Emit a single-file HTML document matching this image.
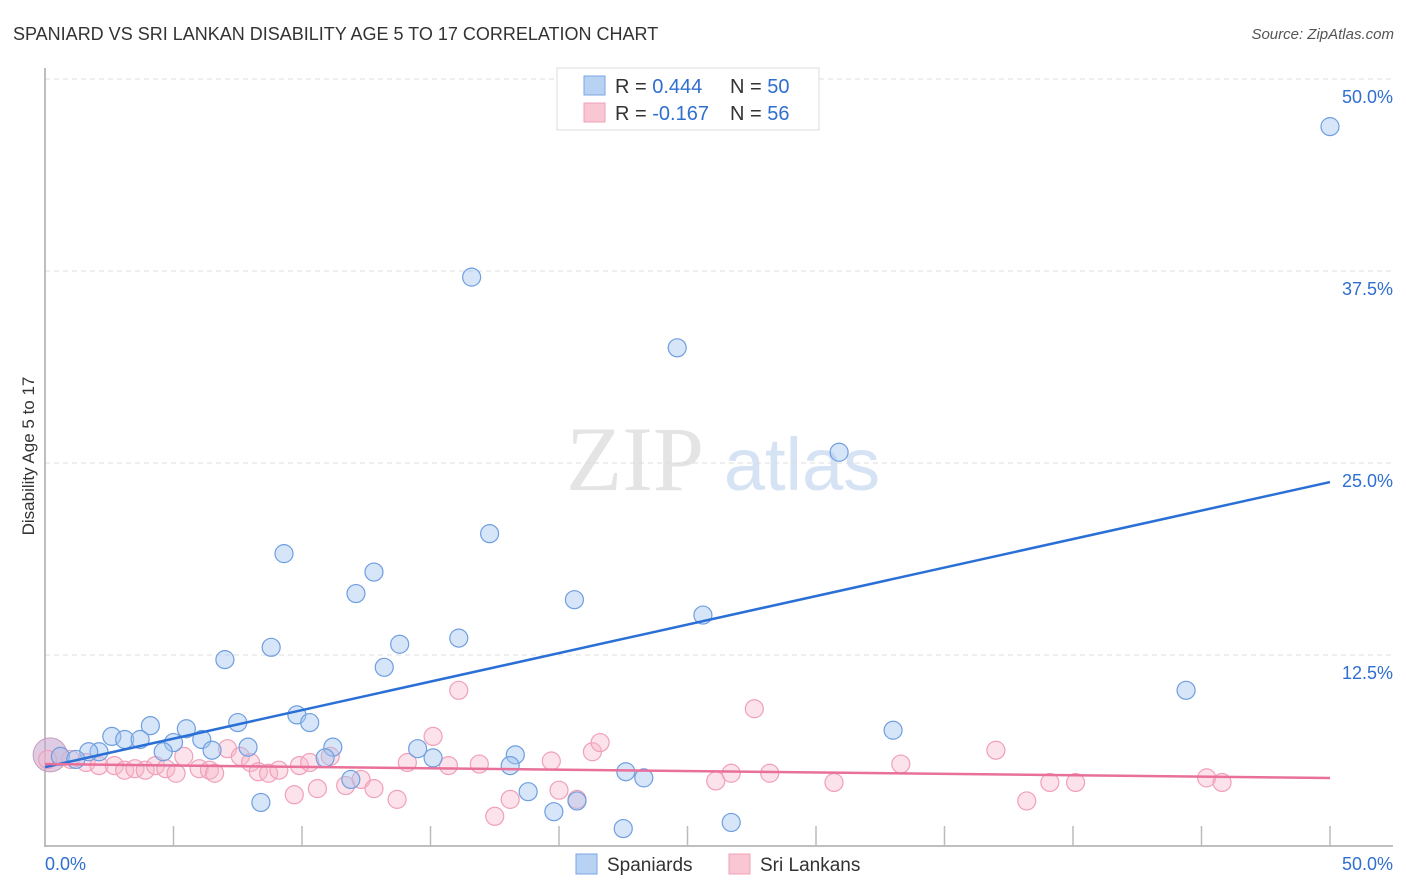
<!DOCTYPE html>
<html><head><meta charset="utf-8">
<style>
body{margin:0;background:#fff;font-family:"Liberation Sans",sans-serif;}
#wrap{position:relative;width:1406px;height:892px;overflow:hidden;}
</style></head>
<body>
<div id="wrap">
<svg id="chart" width="1406" height="892">
<text x="13" y="40" font-size="18" fill="#333">SPANIARD VS SRI LANKAN DISABILITY AGE 5 TO 17 CORRELATION CHART</text>
<text x="1394" y="39" font-size="15" fill="#555" font-style="italic" text-anchor="end">Source: ZipAtlas.com</text>
<text x="0" y="0" transform="translate(34,456) rotate(-90)" font-size="17" fill="#333" text-anchor="middle">Disability Age 5 to 17</text>
<g>
<text x="635" y="490" font-size="92" font-family="Liberation Serif,serif" fill="#e4e4e4" text-anchor="middle">ZIP</text>
<text x="802" y="490" font-size="74" fill="#d6e3f4" text-anchor="middle">atlas</text>
</g>
<g id="grid"></g><g id="axes"></g><g id="pts"></g><g id="trends"></g>
<g>
<rect x="557" y="68" width="262" height="62" fill="#fff" stroke="#ddd"/>
<rect x="584" y="76" width="21" height="19" fill="#b8d2f4" stroke="#7aa6e0"/>
<rect x="584" y="103" width="21" height="19" fill="#f9c6d4" stroke="#f0a0b8"/>
<text x="615" y="93" font-size="20" fill="#333">R = <tspan fill="#2f6fd0">0.444</tspan><tspan x="730">N = </tspan><tspan fill="#2f6fd0">50</tspan></text>
<text x="615" y="120" font-size="20" fill="#333">R = <tspan fill="#2f6fd0">-0.167</tspan><tspan x="730">N = </tspan><tspan fill="#2f6fd0">56</tspan></text>
</g>
<g>
<rect x="576" y="854" width="21" height="20" fill="#b8d2f4" stroke="#7aa6e0"/>
<text x="607" y="871" font-size="19" fill="#333">Spaniards</text>
<rect x="729" y="854" width="21" height="20" fill="#f9c6d4" stroke="#f0a0b8"/>
<text x="760" y="871" font-size="19" fill="#333">Sri Lankans</text>
</g>
</svg>
</div>
<script>
const yTicks=[12.5,25,37.5,50];
const yTickLabels=["12.5%","25.0%","37.5%","50.0%"];
const xTickVals=[0,5,10,15,20,25,30,35,40,45,50];
const spaniardX=[50.0,16.6,24.6,30.9,17.3,9.3,12.8,12.1,20.6,25.6,16.1,13.8,8.8,7.0,13.2,44.4,9.8,10.3,4.1,5.5,7.5,33.0,2.6,3.1,3.7,5.0,6.1,7.9,11.2,14.5,2.1,1.7,6.5,4.6,18.3,15.1,10.9,0.6,1.2,18.1,22.6,23.3,11.9,18.8,20.7,8.4,19.8,22.5,26.7];
const spaniardY=[46.9,37.1,32.5,25.7,20.4,19.1,17.9,16.5,16.1,15.1,13.6,13.2,13.0,12.2,11.7,10.2,8.6,8.1,7.9,7.7,8.1,7.6,7.2,7.0,7.0,6.8,7.0,6.5,6.5,6.4,6.2,6.2,6.3,6.2,6.0,5.8,5.8,5.9,5.7,5.3,4.9,4.5,4.4,3.6,3.0,2.9,2.3,1.2,1.6];
const srilankanX=[0.6,1.0,1.6,2.1,2.7,3.1,3.5,3.9,4.3,4.7,5.1,5.4,6.0,6.4,6.6,7.1,7.6,8.0,8.3,8.7,9.1,9.7,9.9,10.3,10.6,11.1,11.7,12.3,12.8,13.7,14.1,15.1,15.7,16.1,16.9,17.5,18.1,19.7,20.0,20.7,21.3,21.6,26.1,26.7,27.6,28.2,30.7,33.3,37.0,38.2,39.1,40.1,45.2,45.8,0.1];
const srilankanY=[5.9,5.7,5.5,5.3,5.3,5.0,5.1,5.0,5.3,5.1,4.8,5.9,5.1,5.0,4.8,6.4,5.9,5.5,4.9,4.8,5.0,3.4,5.3,5.5,3.8,5.9,4.0,4.4,3.8,3.1,5.5,7.2,5.3,10.2,5.4,2.0,3.1,5.6,3.7,3.1,6.2,6.8,4.3,4.8,9.0,4.8,4.2,5.4,6.3,3.0,4.2,4.2,4.5,4.2,5.7];
const bigPoint=[0.2,6.0];
const spaniardTrend=[5.2,23.76];
const srilankanTrend=[5.4,4.49];
const NS="http://www.w3.org/2000/svg";
const sx=v=>45+v/50*1285;
const sy=v=>847-v/12.5*192;
function mk(t,a,p){const e=document.createElementNS(NS,t);for(const k in a)e.setAttribute(k,a[k]);p.appendChild(e);return e;}
const grid=document.getElementById('grid'),axes=document.getElementById('axes'),pts=document.getElementById('pts'),tr=document.getElementById('trends');
mk('line',{x1:45,x2:1393,y1:79,y2:79,stroke:'#ddd','stroke-dasharray':'5,4'},grid);
yTicks.forEach((t,i)=>{
 const l=mk('line',{x1:45,x2:1393,y1:sy(t),y2:sy(t),stroke:'#ddd','stroke-dasharray':'5,4'},grid);
 
 
 const tx=mk('text',{x:1393,y:sy(t)+24,'font-size':18,fill:'#2f6fd0','text-anchor':'end'},axes);
 tx.textContent=yTickLabels[i];
 
 
});
mk('line',{x1:45,x2:45,y1:68,y2:847,stroke:'#aaa','stroke-width':1.5},axes);
mk('line',{x1:45,x2:1393,y1:846,y2:846,stroke:'#aaa','stroke-width':1.5},axes);
xTickVals.forEach(v=>{if(v>0){const t=mk('line',{x1:sx(v),x2:sx(v),y1:826,y2:846,stroke:'#bbb','stroke-width':1.5},axes);
 
 }});
let a=mk('text',{x:45,y:870,'font-size':18,fill:'#2f6fd0'},axes);a.textContent='0.0%';


a=mk('text',{x:1393,y:870,'font-size':18,fill:'#2f6fd0','text-anchor':'end'},axes);a.textContent='50.0%';


const big=mk('circle',{cx:sx(bigPoint[0]),cy:sy(bigPoint[1]),r:17,fill:'rgba(200,170,210,0.6)',stroke:'#c89ab8'},pts);


srilankanX.forEach((x,i)=>{const c=mk('circle',{cx:sx(x),cy:sy(srilankanY[i]),r:9,fill:'rgba(248,182,202,0.4)',stroke:'#f0a0b8','stroke-width':1.2},pts);
 
 });
spaniardX.forEach((x,i)=>{const c=mk('circle',{cx:sx(x),cy:sy(spaniardY[i]),r:9,fill:'rgba(165,198,240,0.45)',stroke:'#6f9ee0','stroke-width':1.2},pts);
 
 });
let t1=mk('line',{x1:sx(0),y1:sy(spaniardTrend[0]),x2:sx(50),y2:sy(spaniardTrend[1]),stroke:'#2a6fd6','stroke-width':2.5},tr);


let t2=mk('line',{x1:sx(0),y1:sy(srilankanTrend[0]),x2:sx(50),y2:sy(srilankanTrend[1]),stroke:'#e8709a','stroke-width':2.5},tr);


</script>
</body></html>
